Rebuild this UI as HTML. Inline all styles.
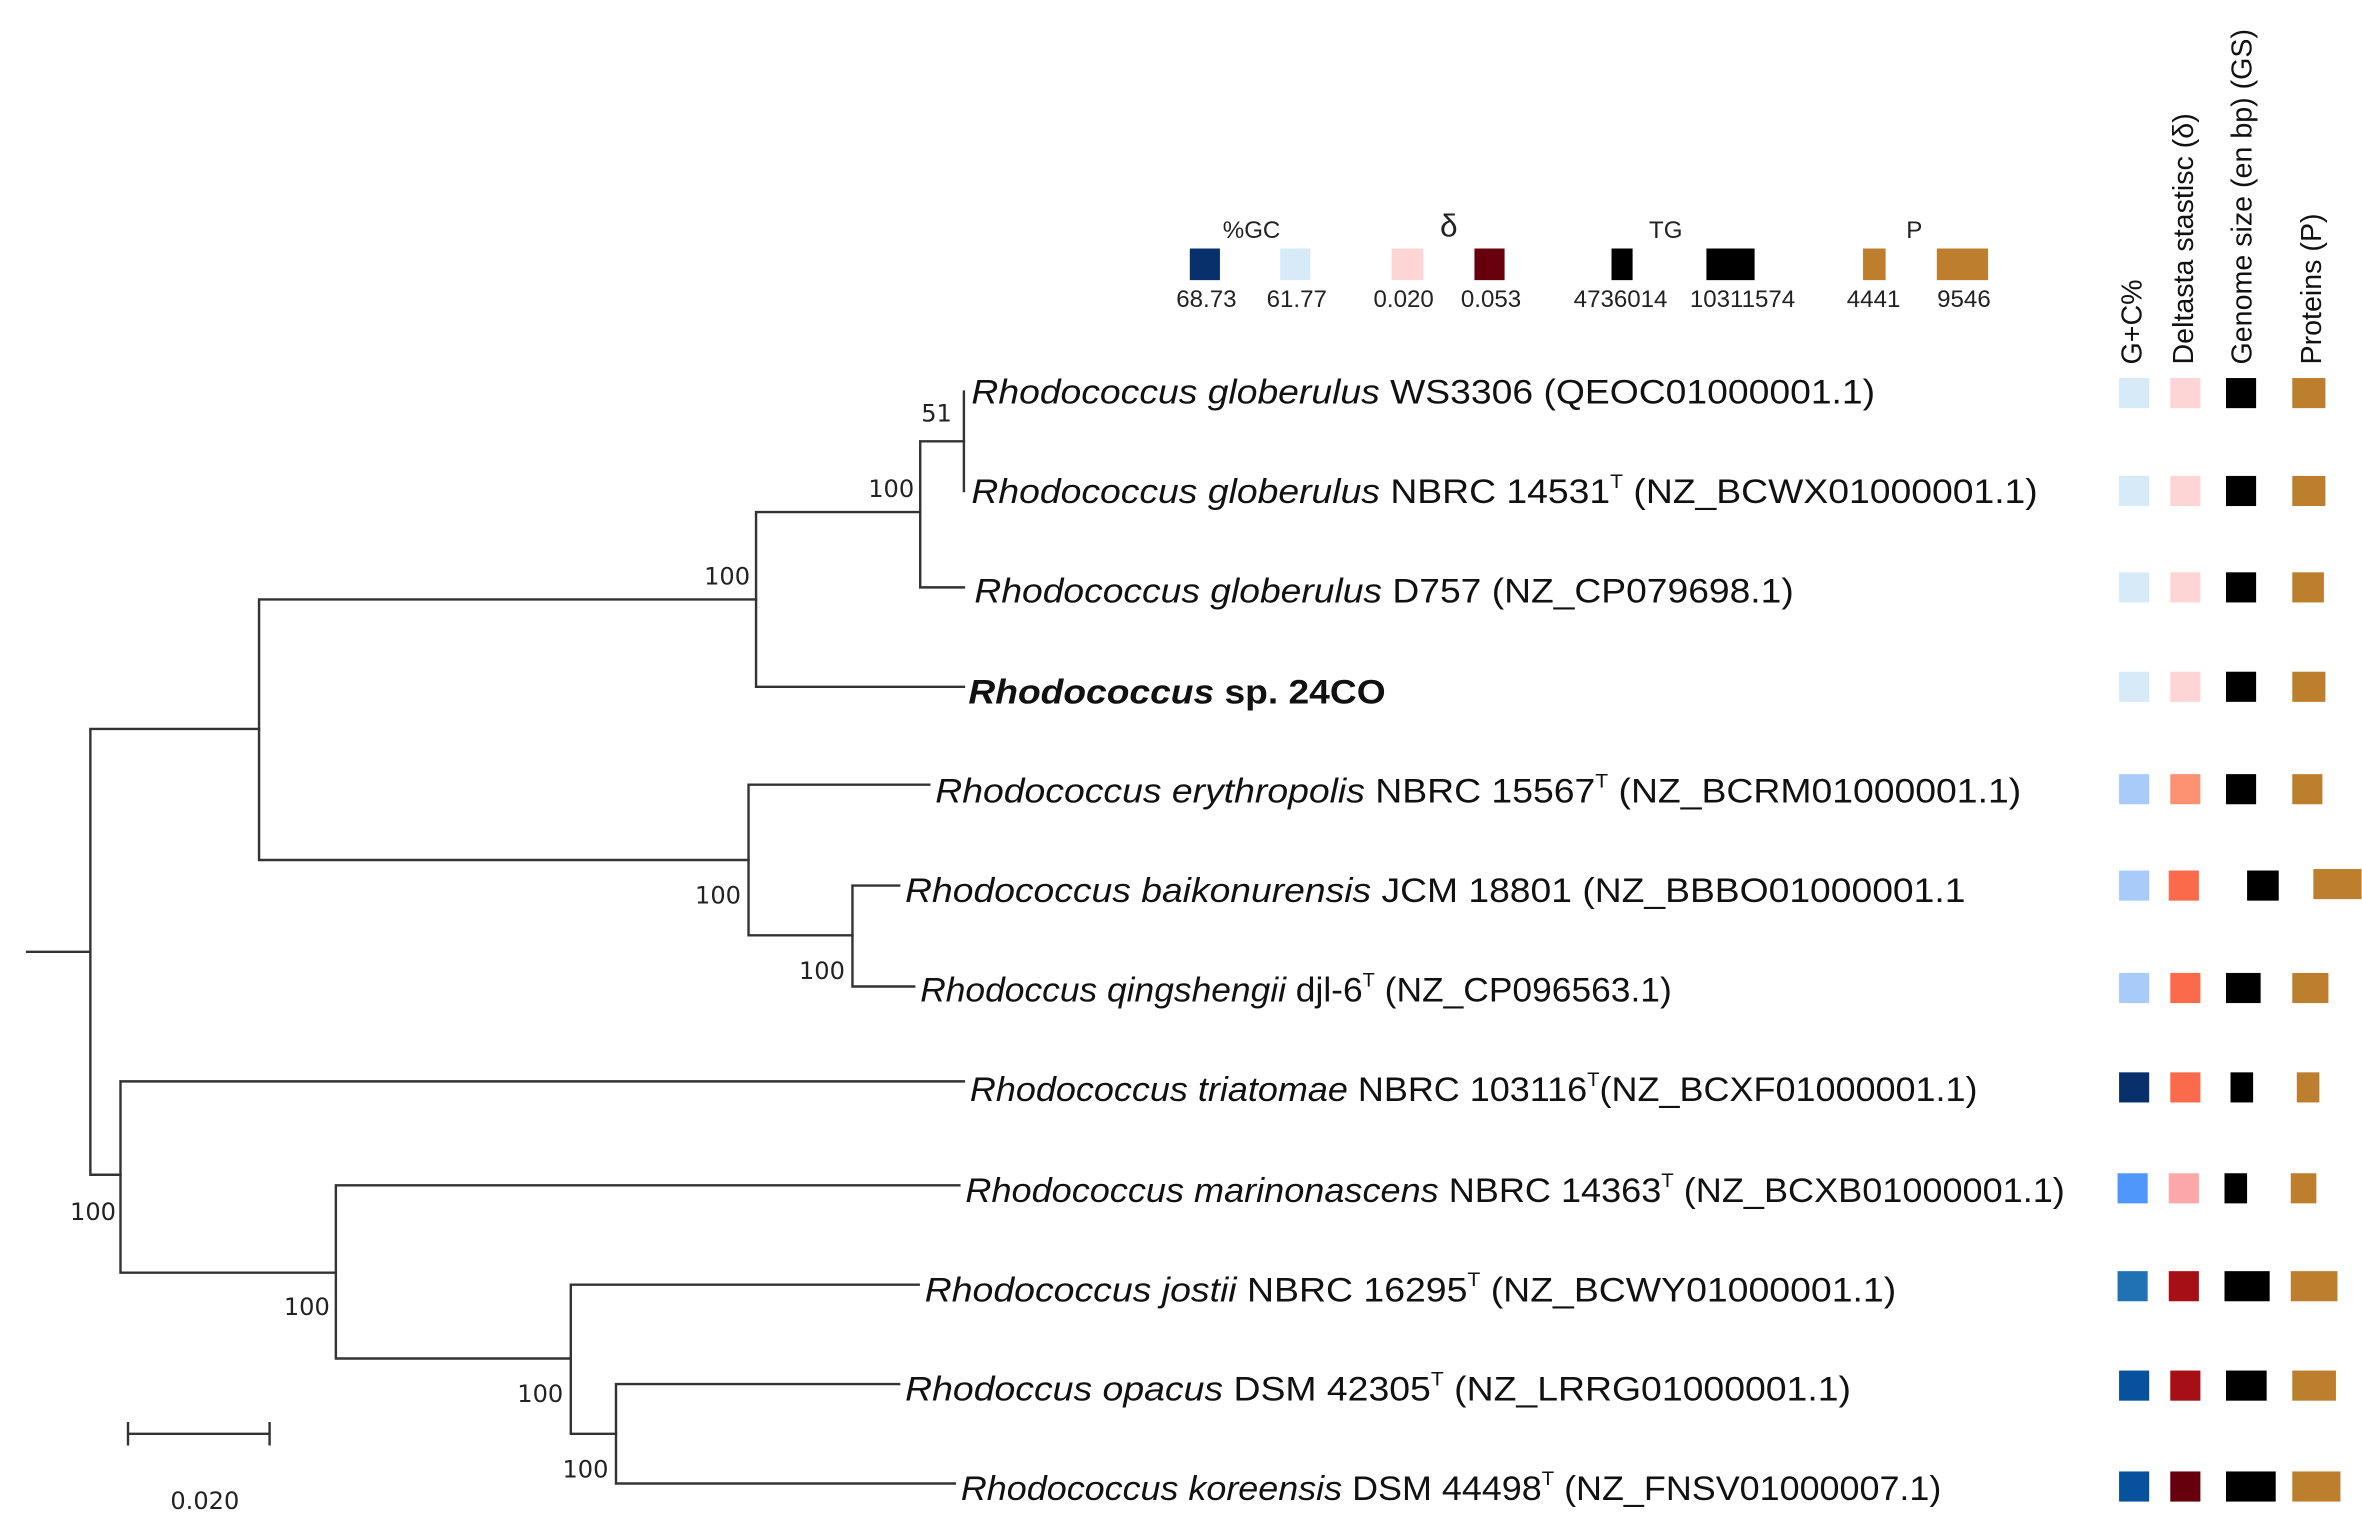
<!DOCTYPE html>
<html><head><meta charset="utf-8"><style>html,body{margin:0;padding:0;background:#fff}svg{display:block}</style></head>
<body>
<svg width="2362" height="1529" viewBox="0 0 1568.3 1015.2" xmlns="http://www.w3.org/2000/svg">
<rect width="1568.3" height="1015.2" fill="#fff"/>
<g stroke="#333" stroke-width="1.6" fill="none" stroke-linecap="square">
<path d="M18 632H60M60 484V780M60 484H172M60 780H80"/>
<path d="M172 398V571M172 398H502M172 571H497"/>
<path d="M502 340V456M502 340H611M502 456H640"/>
<path d="M611 293V390M611 293H640M611 390H640"/>
<path d="M640 260V326"/>
<path d="M497 521V621M497 521H617M497 621H566"/>
<path d="M566 588V655M566 588H597M566 655H607"/>
<path d="M80 718V845M80 718H640M80 845H223"/>
<path d="M223 787V902M223 787H637M223 902H379"/>
<path d="M379 853V952M379 853H610M379 952H409"/>
<path d="M409 919V985M409 919H597M409 985H634"/>
<path d="M85 952H179M85 945V959M179 945V959"/>
</g>
<g font-family="DejaVu Sans, sans-serif" font-size="16" fill="#222" text-anchor="end">
<text x="632" y="280">51</text>
<text x="607" y="330">100</text>
<text x="498" y="388">100</text>
<text x="492" y="600">100</text>
<text x="561" y="650">100</text>
<text x="77" y="810">100</text>
<text x="219" y="873">100</text>
<text x="374" y="931">100</text>
<text x="404" y="981">100</text>
<text x="136" y="1002" text-anchor="middle">0.020</text>
</g>
<g font-family="Liberation Sans, sans-serif" font-size="23" fill="#111">
<text x="645" y="268" textLength="600" lengthAdjust="spacingAndGlyphs"><tspan font-style="italic">Rhodococcus globerulus</tspan> WS3306 (QEOC01000001.1)</text>
<text x="645" y="334" textLength="708" lengthAdjust="spacingAndGlyphs"><tspan font-style="italic">Rhodococcus globerulus</tspan> NBRC 14531<tspan font-size="13" dy="-10">T</tspan><tspan dy="10"> (NZ_BCWX01000001.1)</tspan></text>
<text x="647" y="400" textLength="544" lengthAdjust="spacingAndGlyphs"><tspan font-style="italic">Rhodococcus globerulus</tspan> D757 (NZ_CP079698.1)</text>
<text x="643" y="467" textLength="277" lengthAdjust="spacingAndGlyphs" font-weight="bold"><tspan font-style="italic">Rhodococcus</tspan> sp. 24CO</text>
<text x="621" y="533" textLength="721" lengthAdjust="spacingAndGlyphs"><tspan font-style="italic">Rhodococcus erythropolis</tspan> NBRC 15567<tspan font-size="13" dy="-10">T</tspan><tspan dy="10"> (NZ_BCRM01000001.1)</tspan></text>
<text x="601" y="599" textLength="704" lengthAdjust="spacingAndGlyphs"><tspan font-style="italic">Rhodococcus baikonurensis</tspan> JCM 18801 (NZ_BBBO01000001.1</text>
<text x="611" y="665" textLength="499" lengthAdjust="spacingAndGlyphs"><tspan font-style="italic">Rhodoccus qingshengii</tspan> djl-6<tspan font-size="13" dy="-10">T</tspan><tspan dy="10"> (NZ_CP096563.1)</tspan></text>
<text x="644" y="731" textLength="669" lengthAdjust="spacingAndGlyphs"><tspan font-style="italic">Rhodococcus triatomae</tspan> NBRC 103116<tspan font-size="13" dy="-10">T</tspan><tspan dy="10">(NZ_BCXF01000001.1)</tspan></text>
<text x="641" y="798" textLength="730" lengthAdjust="spacingAndGlyphs"><tspan font-style="italic">Rhodococcus marinonascens</tspan> NBRC 14363<tspan font-size="13" dy="-10">T</tspan><tspan dy="10"> (NZ_BCXB01000001.1)</tspan></text>
<text x="614" y="864" textLength="645" lengthAdjust="spacingAndGlyphs"><tspan font-style="italic">Rhodococcus jostii</tspan> NBRC 16295<tspan font-size="13" dy="-10">T</tspan><tspan dy="10"> (NZ_BCWY01000001.1)</tspan></text>
<text x="601" y="930" textLength="628" lengthAdjust="spacingAndGlyphs"><tspan font-style="italic">Rhodoccus opacus</tspan> DSM 42305<tspan font-size="13" dy="-10">T</tspan><tspan dy="10"> (NZ_LRRG01000001.1)</tspan></text>
<text x="638" y="996" textLength="651" lengthAdjust="spacingAndGlyphs"><tspan font-style="italic">Rhodococcus koreensis</tspan> DSM 44498<tspan font-size="13" dy="-10">T</tspan><tspan dy="10"> (NZ_FNSV01000007.1)</tspan></text>
</g>
<g font-family="Liberation Sans, sans-serif" font-size="16" fill="#222" text-anchor="middle">
<text x="831" y="158">%GC</text>
<text x="962" y="157" font-size="21">δ</text>
<text x="1106" y="158">TG</text>
<text x="1271" y="158">P</text>
<text x="801" y="204">68.73</text>
<text x="861" y="204">61.77</text>
<text x="932" y="204">0.020</text>
<text x="990" y="204">0.053</text>
<text x="1076" y="204">4736014</text>
<text x="1157" y="204">10311574</text>
<text x="1244" y="204">4441</text>
<text x="1304" y="204">9546</text>
</g>
<rect x="790" y="165" width="20" height="21" fill="#08306b"/>
<rect x="850" y="165" width="20" height="21" fill="#d6eaf8"/>
<rect x="924" y="165" width="21" height="21" fill="#fdd5d5"/>
<rect x="979" y="165" width="20" height="21" fill="#67000d"/>
<rect x="1070" y="165" width="14" height="21" fill="#000"/>
<rect x="1133" y="165" width="32" height="21" fill="#000"/>
<rect x="1237" y="165" width="15" height="21" fill="#bd7f2e"/>
<rect x="1286" y="165" width="34" height="21" fill="#bd7f2e"/>
<g font-family="Liberation Sans, sans-serif" font-size="19" fill="#111">
<text transform="translate(1422,242) rotate(-90)">G+C%</text>
<text transform="translate(1456,242) rotate(-90)">Deltasta stastisc (δ)</text>
<text transform="translate(1495,242) rotate(-90)">Genome size (en bp) (GS)</text>
<text transform="translate(1541,242) rotate(-90)">Proteins (P)</text>
</g>
<g>
<rect x="1407" y="251" width="20" height="20" fill="#d6eaf8"/><rect x="1441" y="251" width="20" height="20" fill="#fdd5d5"/><rect x="1478" y="251" width="20" height="20" fill="#000"/><rect x="1522" y="251" width="22" height="20" fill="#bd7f2e"/>
<rect x="1407" y="316" width="20" height="20" fill="#d6eaf8"/><rect x="1441" y="316" width="20" height="20" fill="#fdd5d5"/><rect x="1478" y="316" width="20" height="20" fill="#000"/><rect x="1522" y="316" width="22" height="20" fill="#bd7f2e"/>
<rect x="1407" y="380" width="20" height="20" fill="#d6eaf8"/><rect x="1441" y="380" width="20" height="20" fill="#fdd5d5"/><rect x="1478" y="380" width="20" height="20" fill="#000"/><rect x="1522" y="380" width="21" height="20" fill="#bd7f2e"/>
<rect x="1407" y="446" width="20" height="20" fill="#d6eaf8"/><rect x="1441" y="446" width="20" height="20" fill="#fdd5d5"/><rect x="1478" y="446" width="20" height="20" fill="#000"/><rect x="1522" y="446" width="22" height="20" fill="#bd7f2e"/>
<rect x="1407" y="514" width="20" height="20" fill="#a9cbfa"/><rect x="1441" y="514" width="20" height="20" fill="#fc9272"/><rect x="1478" y="514" width="20" height="20" fill="#000"/><rect x="1522" y="514" width="20" height="20" fill="#bd7f2e"/>
<rect x="1407" y="578" width="20" height="20" fill="#a9cbfa"/><rect x="1440" y="578" width="20" height="20" fill="#fb6a4a"/><rect x="1492" y="578" width="21" height="20" fill="#000"/><rect x="1536" y="577" width="32" height="20" fill="#bd7f2e"/>
<rect x="1407" y="646" width="20" height="20" fill="#a9cbfa"/><rect x="1441" y="646" width="20" height="20" fill="#fb6a4a"/><rect x="1478" y="646" width="23" height="20" fill="#000"/><rect x="1522" y="646" width="24" height="20" fill="#bd7f2e"/>
<rect x="1407" y="712" width="20" height="20" fill="#08306b"/><rect x="1441" y="712" width="20" height="20" fill="#fb6a4a"/><rect x="1481" y="712" width="15" height="20" fill="#000"/><rect x="1525" y="712" width="15" height="20" fill="#bd7f2e"/>
<rect x="1406" y="779" width="20" height="20" fill="#4f97fa"/><rect x="1440" y="779" width="20" height="20" fill="#fca8a8"/><rect x="1477" y="779" width="15" height="20" fill="#000"/><rect x="1521" y="779" width="17" height="20" fill="#bd7f2e"/>
<rect x="1406" y="844" width="20" height="20" fill="#2171b5"/><rect x="1440" y="844" width="20" height="20" fill="#a50f15"/><rect x="1477" y="844" width="30" height="20" fill="#000"/><rect x="1521" y="844" width="31" height="20" fill="#bd7f2e"/>
<rect x="1407" y="910" width="20" height="20" fill="#08519c"/><rect x="1441" y="910" width="20" height="20" fill="#a50f15"/><rect x="1478" y="910" width="27" height="20" fill="#000"/><rect x="1522" y="910" width="29" height="20" fill="#bd7f2e"/>
<rect x="1407" y="977" width="20" height="20" fill="#08519c"/><rect x="1441" y="977" width="20" height="20" fill="#67000d"/><rect x="1478" y="977" width="33" height="20" fill="#000"/><rect x="1522" y="977" width="32" height="20" fill="#bd7f2e"/>
</g>
</svg>
</body></html>
